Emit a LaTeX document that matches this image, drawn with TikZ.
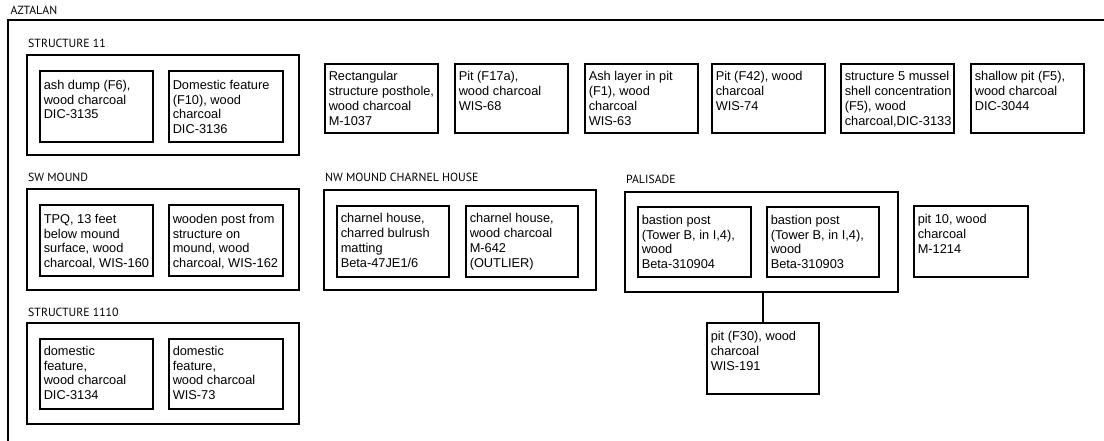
\documentclass[tikz,border=0pt]{standalone}
\usepackage{fontspec}
\setmainfont{Liberation Sans}
\newfontfamily\titlefont{PT Sans}
\begin{document}
\begin{tikzpicture}[x=1pt,y=-1pt,
  boxst/.style={draw=black,line width=1.9pt,rectangle,inner sep=0pt},
  txtst/.style={anchor=north west,align=left,inner sep=0pt,
    font=\fontsize{12.8}{14.9}\selectfont},
  ttlst/.style={anchor=base west,inner sep=0pt,font=\titlefont\fontsize{11.8}{13}\selectfont},
  conn/.style={draw=black,line width=1.9pt}]
\useasboundingbox (0,0) rectangle (1104,441);
\newcommand\grpbox[5]{%
  \node[boxst,minimum width={#4-#2},minimum height={#5-#3}] (#1) at ({(#2+#4)/2},{(#3+#5)/2}) {};}
% #1 name, #2-#5 corners, #6 baseline offset, #7 text
\newcommand\smpbox[7]{%
  \node[boxst,minimum width={#4-#2},minimum height={#5-#3}] (#1) at ({(#2+#4)/2},{(#3+#5)/2}) {};
  \node[txtst] (#1t) at ([xshift=4.5pt,yshift={-(#6-9.4)}]#1.north west) {#7};}
% outer frame (cut by the page)
\grpbox{aztalan}{8}{20}{1200}{520}
\node[ttlst] (aztt) at (10.5,15) {AZTALAN};
% STRUCTURE 11
\node[ttlst] (s11t) at (28,47.7) {STRUCTURE 11};
\grpbox{s11}{27}{55}{299}{155}
\smpbox{a}{40}{71}{153}{142}{19}{ash dump (F6),\\wood charcoal\\DIC-3135}
\smpbox{b}{169}{71}{283}{142}{19}{Domestic feature\\(F10), wood\\charcoal\\DIC-3136}
% top row
\smpbox{c}{325}{64}{438}{133}{17.2}{Rectangular\\structure posthole,\\wood charcoal\\M-1037}
\smpbox{d}{455}{64}{568}{133}{17.2}{Pit (F17a),\\wood charcoal\\WIS-68}
\smpbox{e}{585}{64}{698}{133}{17.2}{Ash layer in pit\\(F1), wood\\charcoal\\WIS-63}
\smpbox{f}{712}{64}{825}{133}{17.2}{Pit (F42), wood\\charcoal\\WIS-74}
\smpbox{g}{841}{64}{954}{133}{17.2}{structure 5 mussel\\shell concentration\\(F5), wood\\charcoal,DIC-3133}
\smpbox{h}{971}{64}{1084}{133}{17.2}{shallow pit (F5),\\wood charcoal\\DIC-3044}
% SW MOUND
\node[ttlst] (swt) at (28,181.5) {SW MOUND};
\grpbox{sw}{27}{189}{299}{290}
\smpbox{i}{40}{205}{153}{276}{19}{TPQ, 13 feet\\below mound\\surface, wood\\charcoal, WIS-160}
\smpbox{j}{169}{205}{283}{276}{19}{wooden post from\\structure on\\mound, wood\\charcoal, WIS-162}
% NW MOUND CHARNEL HOUSE
\node[ttlst] (nwt) at (325,182) {NW MOUND CHARNEL HOUSE};
\grpbox{nw}{324}{190}{596}{290}
\smpbox{k}{337}{206}{449}{277}{17.5}{charnel house,\\charred bulrush\\matting\\Beta-47JE1/6}
\smpbox{l}{466}{206}{578}{277}{17.5}{charnel house,\\wood charcoal\\M-642\\(OUTLIER)}
% PALISADE
\node[ttlst] (palt) at (626,183.5) {PALISADE};
\grpbox{pal}{625}{192}{898}{292}
\smpbox{m}{638}{207}{751}{277}{18}{bastion post\\(Tower B, in I,4),\\wood\\Beta-310904}
\smpbox{n}{767}{207}{879}{277}{18}{bastion post\\(Tower B, in I,4),\\wood\\Beta-310903}
\smpbox{o}{914}{206}{1028}{277}{18.3}{pit 10, wood\\charcoal\\M-1214}
\smpbox{p}{707}{323}{819}{394}{18.5}{pit (F30), wood\\charcoal\\WIS-191}
\draw[conn] (p.north) -- (p.north |- pal.south);
% STRUCTURE 1110
\node[ttlst] (s1110t) at (28,316.5) {STRUCTURE 1110};
\grpbox{s1110}{27}{323}{299}{424}
\smpbox{q}{40}{339}{153}{409}{17}{domestic\\feature,\\wood charcoal\\DIC-3134}
\smpbox{r}{169}{339}{283}{409}{17}{domestic\\feature,\\wood charcoal\\WIS-73}
\end{tikzpicture}
\end{document}
